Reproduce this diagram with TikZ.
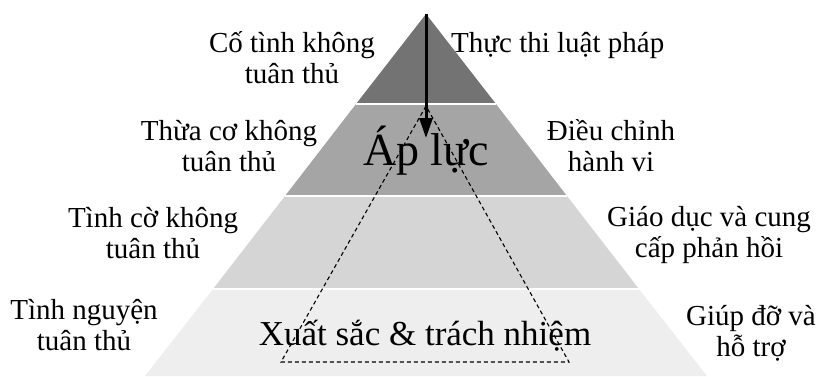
\documentclass[tikz,border=0pt]{standalone}
\usepackage{fontspec}
\setmainfont{Liberation Serif}
\usetikzlibrary{arrows.meta}
\definecolor{bandA}{RGB}{115,115,115}
\definecolor{bandB}{RGB}{165,165,165}
\definecolor{bandC}{RGB}{213,213,213}
\definecolor{bandD}{RGB}{238,238,238}
\begin{document}
\begin{tikzpicture}[x=1pt,y=-1pt,
  sidelabel/.style={align=center,inner sep=0pt,anchor=base,
    font=\fontsize{29}{31}\selectfont},
  bandsep/.style={white,line width=1.5pt}]
\useasboundingbox (0,0) rectangle (817,376);
% pyramid corners
\coordinate (apex) at (426,14);
\coordinate (l1) at (356,104); \coordinate (r1) at (496,104);
\coordinate (l2) at (285,196); \coordinate (r2) at (567,196);
\coordinate (l3) at (213,289); \coordinate (r3) at (639,289);
\coordinate (l4) at (145,376); \coordinate (r4) at (707,376);
\fill[bandA] (apex) -- (r1) -- (l1) -- cycle;
\fill[bandB] (l1) -- (r1) -- (r2) -- (l2) -- cycle;
\fill[bandC] (l2) -- (r2) -- (r3) -- (l3) -- cycle;
\fill[bandD] (l3) -- (r3) -- (r4) -- (l4) -- cycle;
\draw[bandsep] (l1) -- (r1);
\draw[bandsep] (l2) -- (r2);
\draw[bandsep] (l3) -- (r3);
% dashed triangle
\coordinate (dt) at (426,106);
\coordinate (dl) at (281,362);
\coordinate (dr) at (569,362);
\draw[line width=1.1pt,dash pattern=on 4pt off 3pt] (dt) -- (dl) -- (dr) -- cycle;
% arrow
\coordinate (arrtip) at (426,138);
\draw[line width=3pt,-{Triangle[length=20pt,width=13pt]}] (apex) -- (arrtip);
% texts (anchor base = baseline of the last line)
\node[sidelabel] (t1l) at (292,83) {Cố tình không\\tuân thủ};
\node[sidelabel,anchor=base west] (t1r) at (451,52) {Thực thi luật pháp};
\node[sidelabel] (t2l) at (229,171) {Thừa cơ không\\tuân thủ};
\node[sidelabel] (t2r) at (611,171) {Điều chỉnh\\hành vi};
\node[sidelabel] (t3l) at (153,258) {Tình cờ không\\tuân thủ};
\node[sidelabel] (t3r) at (709,257) {Giáo dục và cung\\cấp phản hồi};
\node[sidelabel] (t4l) at (84,350) {Tình nguyện\\tuân thủ};
\node[sidelabel] (t4r) at (751,356) {Giúp đỡ và\\hỗ trợ};
\node[inner sep=0pt,anchor=base,font=\fontsize{46}{50}\selectfont] (apluc) at (426,165) {Áp lực};
\node[inner sep=0pt,anchor=base,font=\fontsize{35}{40}\selectfont] (xuatsac) at (425,345) {Xuất sắc \& trách nhiệm};
\end{tikzpicture}
\end{document}
